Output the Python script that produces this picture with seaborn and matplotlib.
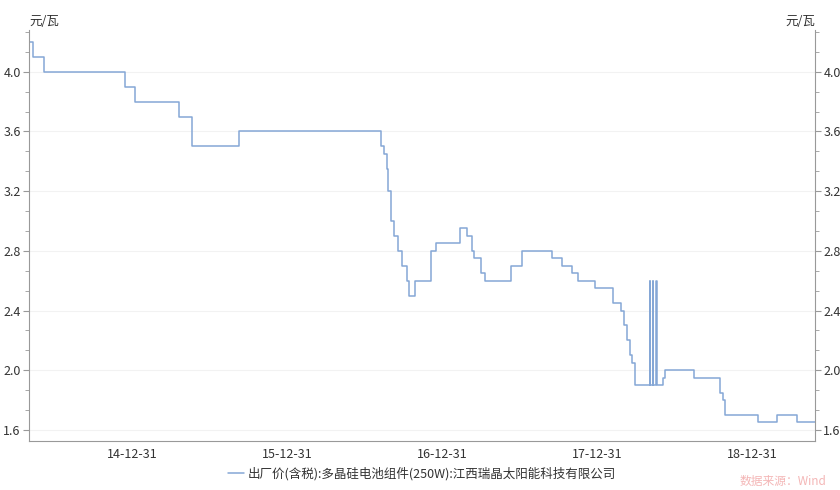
import matplotlib
matplotlib.use("Agg")
import matplotlib.pyplot as plt
import matplotlib.dates as mdates
from matplotlib.ticker import MultipleLocator, AutoMinorLocator
import pandas as pd
import seaborn as sns

# change points of the weekly price series (step chart)
dates = ["2014-05-05", "2014-05-11", "2014-06-06", "2014-12-15", "2015-01-08",
         "2015-04-20", "2015-05-22", "2015-09-10", "2016-08-08", "2016-08-15",
         "2016-08-22", "2016-08-26", "2016-09-01", "2016-09-09", "2016-09-17",
         "2016-09-28", "2016-10-08", "2016-10-14", "2016-10-28", "2016-12-04",
         "2016-12-16", "2017-02-12", "2017-02-28", "2017-03-12", "2017-03-16",
         "2017-04-01", "2017-04-12", "2017-06-11", "2017-07-08", "2017-09-17",
         "2017-10-10", "2017-11-02", "2017-11-16", "2017-12-26", "2018-02-07",
         "2018-02-26", "2018-03-05", "2018-03-12", "2018-03-18", "2018-03-24",
         "2018-03-30", "2018-05-04", "2018-05-05", "2018-05-12", "2018-05-13",
         "2018-05-20", "2018-05-21", "2018-06-04", "2018-06-09", "2018-08-17",
         "2018-10-16", "2018-10-23", "2018-10-30", "2019-01-15", "2019-03-01",
         "2019-04-17", "2019-05-28"]
prices = [4.2, 4.1, 4.0, 3.9, 3.8, 3.7, 3.5, 3.6, 3.5, 3.45,
          3.35, 3.2, 3.0, 2.9, 2.8, 2.7, 2.6, 2.5, 2.6, 2.8,
          2.85, 2.95, 2.9, 2.8, 2.75, 2.65, 2.6, 2.7, 2.8, 2.75,
          2.7, 2.65, 2.6, 2.55, 2.45, 2.4, 2.3, 2.2, 2.1, 2.05,
          1.9, 2.6, 1.9, 2.6, 1.9, 2.6, 1.9, 1.95, 2.0, 1.95,
          1.85, 1.8, 1.7, 1.65, 1.7, 1.65, 1.65]
series_name = "出厂价(含税):多晶硅电池组件(250W):江西瑞晶太阳能科技有限公司"
unit = "元/瓦"

sns.set_style("white")
plt.rcParams["font.family"] = ["Noto Sans CJK SC", "DejaVu Sans"]
plt.rcParams["axes.unicode_minus"] = False

df = pd.DataFrame({"date": pd.to_datetime(dates), "price": prices})

fig, ax = plt.subplots(figsize=(8.4, 4.9), dpi=100)
fig.subplots_adjust(left=29/840, right=815/840, bottom=1-441/490, top=1-30/490)

sns.lineplot(data=df, x="date", y="price", ax=ax, drawstyle="steps-post",
             color="#85a7d6", linewidth=1.1, label=series_name)

ax.set_xlim(pd.Timestamp("2014-05-02"), pd.Timestamp("2019-05-29"))
ax.set_ylim(1.526, 4.28)
ax.set_xlabel("")
ax.set_ylabel("")

ax.yaxis.set_major_locator(MultipleLocator(0.4))
ax.yaxis.set_minor_locator(AutoMinorLocator(3))
ax.yaxis.set_major_formatter(plt.FormatStrFormatter("%.1f"))
ax.xaxis.set_major_locator(mdates.MonthLocator(bymonth=12, bymonthday=31))
ax.xaxis.set_minor_locator(mdates.MonthLocator(bymonth=[3, 6, 9, 12], bymonthday=-1))
ax.xaxis.set_major_formatter(mdates.DateFormatter("%y-%m-%d"))

ax.grid(axis="y", which="major", color="#f2f2f2", linewidth=0.8)
for side in ["left", "right", "bottom"]:
    ax.spines[side].set_color("#999999")
    ax.spines[side].set_linewidth(0.8)
ax.spines["top"].set_visible(False)

ax.tick_params(axis="both", which="both", direction="out", color="#999999",
               labelsize=9, labelcolor="#333333")
ax.tick_params(axis="y", which="both", right=True, labelright=True, left=True)
ax.tick_params(which="major", length=4)
ax.tick_params(which="minor", length=3)
ax.tick_params(axis="y", pad=2)
ax.tick_params(axis="x", pad=1)

ax.text(0.0, 1.005, unit, transform=ax.transAxes, ha="left", va="bottom",
        fontsize=9, color="#333333")
ax.text(1.0, 1.005, unit, transform=ax.transAxes, ha="right", va="bottom",
        fontsize=9, color="#333333")

ax.legend(loc="upper center", bbox_to_anchor=(0.5, -0.035), frameon=False,
          fontsize=9, handlelength=1.3, handletextpad=0.3,
          labelcolor="#333333")

fig.text(740/840, 1-481/490, "数据来源：Wind", color="#f4b6b6", fontsize=8.5,
         ha="left", va="center")

fig.savefig("out.png", dpi=100)
